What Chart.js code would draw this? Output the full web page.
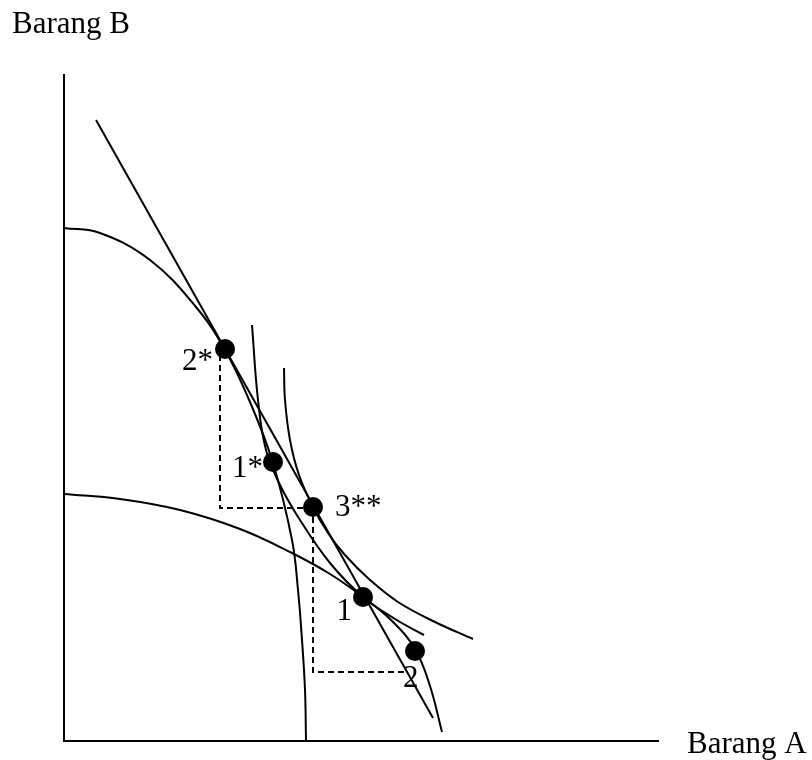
<!DOCTYPE html>
<html>
<head>
<meta charset="utf-8">
<script src="https://cdn.jsdelivr.net/npm/chart.js@4.4.1/dist/chart.umd.min.js"></script>
<style>
  html, body { margin: 0; padding: 0; background: #fff; }
  #wrap { width: 812px; height: 760px; }
</style>
</head>
<body>
<div id="wrap"><canvas id="chart" width="812" height="760"></canvas></div>
<script>
// values (units: Barang A to the right, Barang B upward)
const axisX = [0, 0, 595];
const axisY = [667, 0, 0];

const tradeX = [32, 369];
const tradeY = [621, 23];

// PPF of the * country
const ppfStarX = [0, 36, 86, 132, 161, 186, 209, 228, 234, 238, 241, 242];
const ppfStarY = [513, 508, 481, 434, 391, 339, 278, 201, 151, 101, 51, 1];

// PPF of the home country
const ppfHomeX = [0, 56, 116, 176, 228, 266, 299, 328, 351, 366, 378];
const ppfHomeY = [247, 242, 231, 212, 188, 167, 144, 120, 92, 55, 9];

// autarky indifference curve
const icLowX = [188, 194, 202, 216, 236, 266, 299, 331, 360];
const icLowY = [416, 341, 291, 256, 221, 178, 144, 122, 106];

// trade indifference curve
const icHighX = [220, 221, 226, 235, 249, 264, 281, 306, 334, 371, 409];
const icHighY = [373, 341, 301, 266, 234, 208, 186, 161, 139, 119, 102];

// trade triangles
const triStarX = [156, 156, 249];
const triStarY = [386, 233, 233];
const triHomeX = [249, 249, 341];
const triHomeY = [234, 69, 69];

const pointNames = ['2*', '1*', '3**', '1', '2'];
const pointX = [161, 209, 249, 299, 351];
const pointY = [392, 279, 234, 144, 90];

const axisNames = ['Barang B', 'Barang A'];
const axisNameX = [-52, 623];
const axisNameY = [708, -12];

function pts(xs, ys) {
    return xs.map((x, i) => ({ x, y: ys[i] }));
}

function curve(xs, ys, extra) {
    return {
        data: pts(xs, ys),
        showLine: true,
        borderColor: '#000',
        borderWidth: 2,
        pointRadius: 0,
        fill: false,
        tension: 0.4,
        ...extra,
    };
}

// label offsets in pixels from the dot centre
const labelOffsets = [
    { dx: -12, dy: 21, align: 'right' },
    { dx: -10, dy: 15, align: 'right' },
    { dx: 22, dy: 9, align: 'left' },
    { dx: -11, dy: 23, align: 'right' },
    { dx: -12, dy: 36, align: 'left' },
];

const textPlugin = {
    id: 'texts',
    afterDraw(chart) {
        const { ctx, scales } = chart;
        ctx.save();
        ctx.fillStyle = '#000';
        ctx.font = '31px "Liberation Serif", "Times New Roman", serif';
        ctx.textBaseline = 'alphabetic';

        pointNames.forEach((name, i) => {
            const o = labelOffsets[i];
            ctx.textAlign = o.align;
            ctx.fillText(name, scales.x.getPixelForValue(pointX[i]) + o.dx, scales.y.getPixelForValue(pointY[i]) + o.dy);
        });

        ctx.textAlign = 'left';
        axisNames.forEach((name, i) => {
            ctx.fillText(name, scales.x.getPixelForValue(axisNameX[i]), scales.y.getPixelForValue(axisNameY[i]));
        });
        ctx.restore();
    },
};

new Chart(document.getElementById('chart'), {
    type: 'scatter',
    data: {
        datasets: [
            curve(axisX, axisY, { tension: 0 }),
            curve(tradeX, tradeY, { tension: 0 }),
            curve(ppfStarX, ppfStarY),
            curve(ppfHomeX, ppfHomeY),
            curve(icLowX, icLowY),
            curve(icHighX, icHighY),
            curve(triStarX, triStarY, { tension: 0, borderDash: [6, 4] }),
            curve(triHomeX, triHomeY, { tension: 0, borderDash: [6, 4] }),
            {
                data: pts(pointX, pointY),
                showLine: false,
                pointRadius: 10,
                pointBackgroundColor: '#000',
                pointBorderColor: '#000',
                pointBorderWidth: 0,
            },
        ],
    },
    options: {
        responsive: false,
        animation: false,
        layout: { padding: 0, autoPadding: false },
        plugins: {
            legend: { display: false },
            tooltip: { enabled: false },
        },
        scales: {
            x: { type: 'linear', min: -64, max: 748, display: false },
            y: { type: 'linear', min: -19, max: 741, display: false },
        },
    },
    plugins: [textPlugin],
});
</script>
</body>
</html>
